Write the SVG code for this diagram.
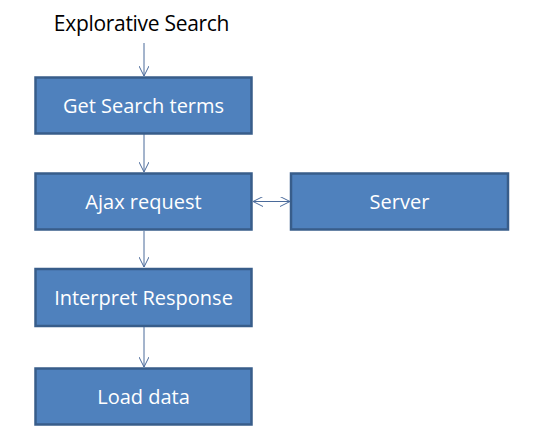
<svg xmlns="http://www.w3.org/2000/svg" width="535" height="430" viewBox="0 0 535 430">
<style>
.box{fill:#4f81bd;stroke:#385d8a;stroke-width:2.5}
.lbl{font-family:"Open Sans","Liberation Sans",sans-serif;font-size:20px;fill:#ffffff;text-anchor:middle;dominant-baseline:central}
.title{font-family:"Open Sans","Liberation Sans",sans-serif;font-size:21px;fill:#000000;text-anchor:middle;dominant-baseline:central}
.con{stroke:#4a6a9a;stroke-width:1;fill:none}
</style>
<defs>
<marker id="ah" viewBox="0 0 10 10" refX="10" refY="5" markerWidth="10" markerHeight="10" markerUnits="userSpaceOnUse" orient="auto-start-reverse">
<path d="M0,0 L10,5 L0,10" fill="none" stroke="#4a6a9a" stroke-width="1"/>
</marker>
</defs>
<text class="title" x="141.5" y="23" letter-spacing="-0.3">Explorative Search</text>
<g id="connectors">
<line class="con" x1="144" y1="43" x2="144" y2="76" marker-end="url(#ah)"/>
<line class="con" x1="144" y1="134" x2="144" y2="172" marker-end="url(#ah)"/>
<line class="con" x1="144" y1="231" x2="144" y2="267" marker-end="url(#ah)"/>
<line class="con" x1="144" y1="327" x2="144" y2="367" marker-end="url(#ah)"/>
<line class="con" x1="253" y1="201.5" x2="290" y2="201.5" marker-start="url(#ah)" marker-end="url(#ah)"/>
</g>
<g id="get-search-terms">
<rect class="box" x="35.5" y="77.5" width="216" height="56"/>
<text class="lbl" x="143.5" y="105">Get Search terms</text>
</g>
<g id="ajax-request">
<rect class="box" x="35.5" y="173.5" width="216" height="56"/>
<text class="lbl" x="143.5" y="201">Ajax request</text>
</g>
<g id="server">
<rect class="box" x="291" y="173.5" width="217" height="56"/>
<text class="lbl" x="399.5" y="201">Server</text>
</g>
<g id="interpret-response">
<rect class="box" x="35.5" y="269" width="216" height="57"/>
<text class="lbl" x="143.5" y="297">Interpret Response</text>
</g>
<g id="load-data">
<rect class="box" x="35.5" y="368.5" width="216" height="56"/>
<text class="lbl" x="143.5" y="396">Load data</text>
</g>
</svg>
